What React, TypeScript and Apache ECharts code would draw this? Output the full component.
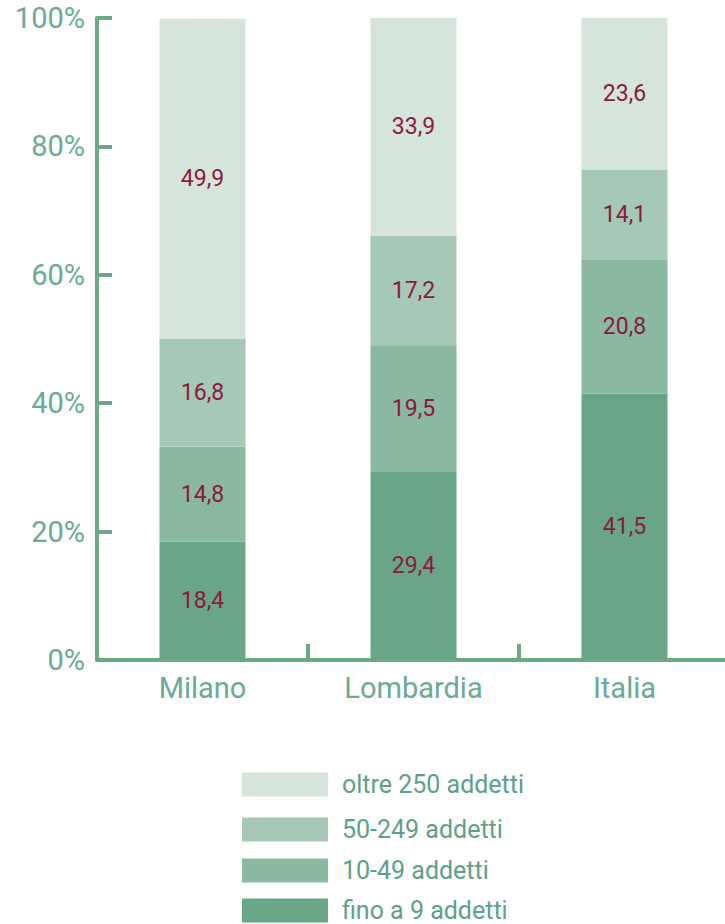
import React, { useEffect, useRef } from "react";
import * as echarts from "echarts";

const categories = ["Milano", "Lombardia", "Italia"];
const seriesNames = ["fino a 9 addetti", "10-49 addetti", "50-249 addetti", "oltre 250 addetti"];
const fino9 = [18.4, 29.4, 41.5];
const da10a49 = [14.8, 19.5, 20.8];
const da50a249 = [16.8, 17.2, 14.1];
const oltre250 = [49.9, 33.9, 23.6];
const yTicks = [0, 20, 40, 60, 80, 100];

const colors = ["#68a687", "#8ab8a0", "#a6c8b6", "#d5e5dc"];
const FONT = "Roboto, 'Noto Sans', sans-serif";
const legendTops = [893, 853, 812, 767];

export default function App() {
  const ref = useRef<HTMLDivElement>(null);
  useEffect(() => {
    if (!ref.current) return;
    const chart = echarts.init(ref.current, undefined, { renderer: "svg" });
    const dataSets = [fino9, da10a49, da50a249, oltre250];
    chart.setOption({
      animation: false,
      textStyle: { fontFamily: FONT },
      grid: { left: 97, width: 633, top: 18, bottom: 264 },
      legend: seriesNames.map((name, i) => ({
        orient: "vertical",
        left: 237,
        top: legendTops[i],
        icon: "rect",
        itemWidth: 86,
        itemHeight: 24,
        data: [name],
        textStyle: {
          fontSize: 25,
          lineHeight: 24,
          color: "#5e9f8c",
          fontFamily: FONT,
          padding: [0, 0, 0, 9],
        },
      })),
      xAxis: {
        type: "category",
        data: categories,
        axisLine: { lineStyle: { color: "#6aa888", width: 4 } },
        axisTick: {
          show: true,
          interval: 0,
          inside: true,
          length: 16,
          lineStyle: { color: "#6aa888", width: 4 },
        },
        axisLabel: { fontSize: 29, color: "#6aaa96", margin: 13, fontFamily: FONT },
      },
      yAxis: {
        type: "value",
        min: 0,
        max: 100,
        interval: 20,
        splitLine: { show: false },
        axisLine: { show: true, lineStyle: { color: "#6aa888", width: 4 } },
        axisTick: { show: true, inside: true, length: 15, lineStyle: { color: "#6aa888", width: 4 } },
        axisLabel: {
          fontSize: 29,
          color: "#6aaa96",
          margin: 12,
          fontFamily: FONT,
          formatter: (v: number) => (yTicks.includes(v) ? v + "%" : ""),
        },
      },
      series: seriesNames.map((name, i) => ({
        name,
        type: "bar",
        stack: "total",
        barWidth: 86,
        data: dataSets[i],
        itemStyle: { color: colors[i] },
        label: {
          show: true,
          position: "inside",
          color: "#8b1a3f",
          fontSize: 23,
          fontFamily: FONT,
          formatter: (p: any) => String(p.value.toFixed(1)).replace(".", ","),
        },
      })),
    });
    return () => chart.dispose();
  }, []);
  return (
    <div style={{ position: "absolute", left: 0, top: 0, width: 725, height: 924, overflow: "hidden" }}>
      <div ref={ref} style={{ width: 745, height: 924 }} />
    </div>
  );
}
